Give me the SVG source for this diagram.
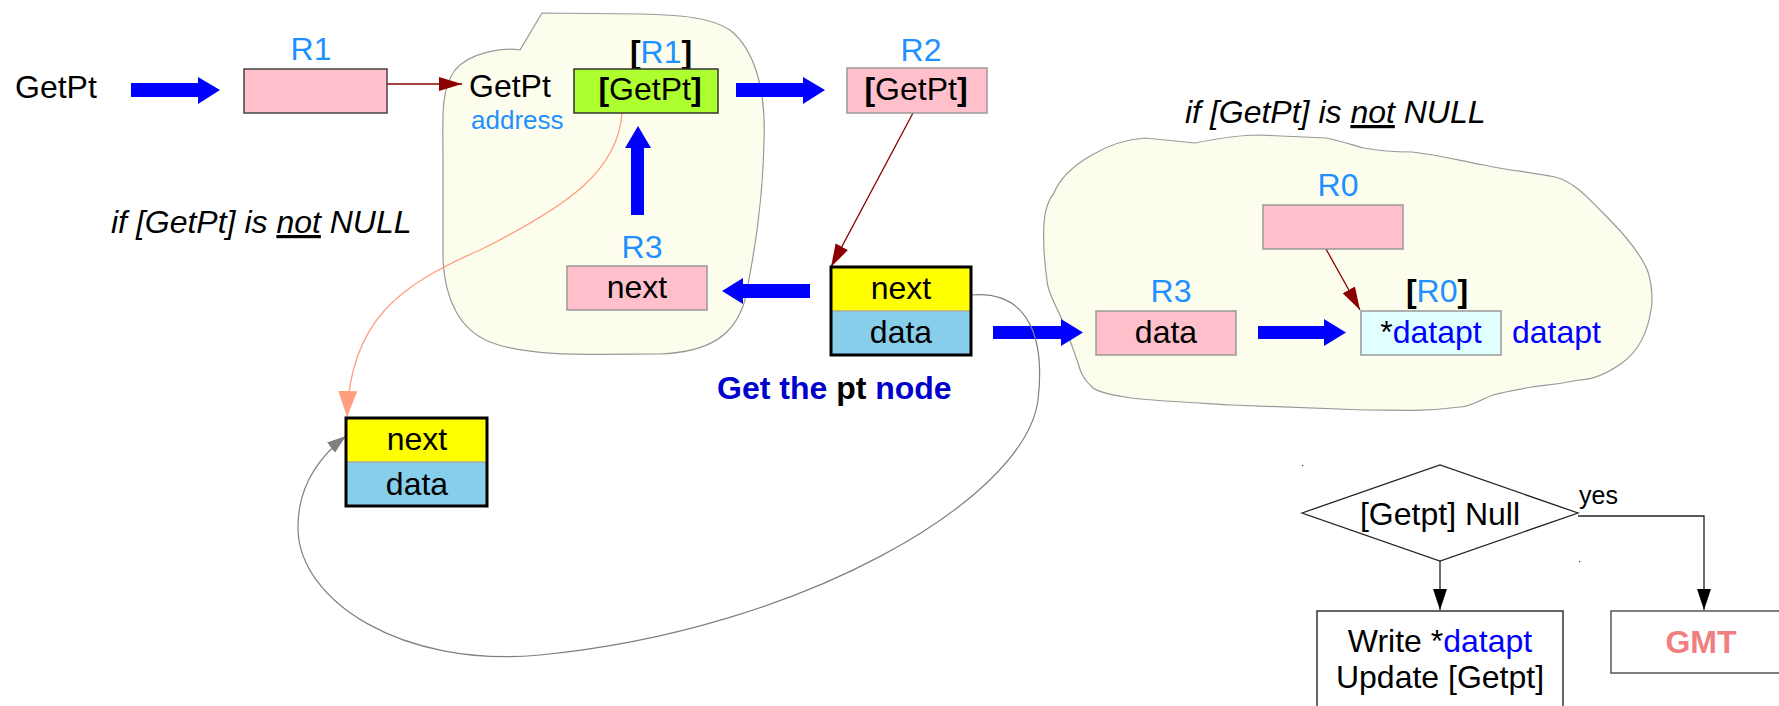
<svg xmlns="http://www.w3.org/2000/svg" width="1779" height="706" viewBox="0 0 1779 706">
<defs>
<style>
text{font-family:"Liberation Sans",Arial,sans-serif;font-size:32px;fill:#000}
.lbl{fill:#1e90ff}
.b{font-weight:bold}
.mid{text-anchor:middle}
.blue{fill:#0000ff}
.pink{fill:#ffc0cb;stroke:#999;stroke-width:1.5}
.cloud{fill:#fdfdee;stroke:#999;stroke-width:1.2}
.big{fill:#0000ff}
.cell{stroke:none}
.frame{fill:none;stroke:#000;stroke-width:3}
.split{stroke:#aaa;stroke-width:1.5}
.thinred{stroke:#8b0000;stroke-width:1.3;fill:none}
.flow{stroke:#222;stroke-width:1.3;fill:none}
.it{font-style:italic}
</style>
<marker id="mRed" markerUnits="userSpaceOnUse" markerWidth="24" markerHeight="16" refX="23" refY="7" orient="auto" viewBox="0 0 24 16"><path d="M0,0 L23,7 L0,14 z" fill="#8b0000"/></marker>
<marker id="mOrange" markerUnits="userSpaceOnUse" markerWidth="27" markerHeight="20" refX="26" refY="9.5" orient="auto" viewBox="0 0 27 20"><path d="M0,0 L26,9.5 L0,19 z" fill="#ff9f7f"/></marker>
<marker id="mGray" markerUnits="userSpaceOnUse" markerWidth="20" markerHeight="14" refX="19" refY="6.5" orient="auto" viewBox="0 0 20 14"><path d="M0,0 L19,6.5 L0,13 z" fill="#808080"/></marker>
<marker id="mBlack" markerUnits="userSpaceOnUse" markerWidth="22" markerHeight="16" refX="21" refY="7" orient="auto" viewBox="0 0 22 16"><path d="M0,0 L21,7 L0,14 z" fill="#000"/></marker>
</defs>
<rect width="1779" height="706" fill="#fff"/>

<g id="cloud-left">
<path class="cloud" d="M542,13 L520,50 C505,47 470,52 455,70 C440,90 443,120 443,160 L443,260 C445,300 460,330 490,342 C530,358 600,354 660,354 C710,352 735,335 745,300 C755,250 763,200 764,140 C766,90 755,50 730,30 C710,17 680,15 640,14 Z"/>
</g>
<g id="cloud-right">
<path class="cloud" d="M1054,193 C1065,165 1110,140 1145,138 L1195,143 C1220,138 1240,135 1259,135 L1326,138 C1345,142 1355,146 1364,148 C1385,152 1400,152 1412,152 C1440,155 1465,162 1484,165 C1505,170 1530,172 1555,177 C1575,182 1590,200 1603,213 C1615,225 1635,245 1646,267 C1652,280 1653,300 1651,310 C1648,330 1640,350 1622,363 C1605,375 1590,380 1579,380 C1555,385 1545,385 1532,387 C1515,390 1500,393 1493,395 C1480,400 1470,407 1460,407 C1420,412 1400,410 1364,410 L1231,405 C1180,402 1140,400 1125,397 C1105,394 1095,390 1092,387 C1082,378 1080,370 1078,363 C1070,340 1065,325 1059,313 C1050,295 1047,285 1047,280 C1044,260 1043,240 1044,223 C1045,210 1048,200 1054,193 Z"/>
</g>

<g id="connectors">
<path class="big" d="M131,83 H198 V77 L220,90 L198,104 V97 H131 Z"/>
<path class="big" d="M736,83 H803 V77 L825,90 L803,104 V97 H736 Z"/>
<path class="big" d="M631,215 V148 H625 L638,126 L651,148 H644 V215 Z"/>
<path class="big" d="M810,284 H743 V278 L722,291 L743,304 V298 H810 Z"/>
<path class="big" d="M993,326 H1061 V319 L1083,332.5 L1061,346 V339 H993 Z"/>
<path class="big" d="M1258,326 H1324 V319 L1346,332.5 L1324,346 V339 H1258 Z"/>
<line class="thinred" x1="387" y1="84" x2="462" y2="84" marker-end="url(#mRed)"/>
<line class="thinred" x1="913" y1="113" x2="831" y2="267" marker-end="url(#mRed)"/>
<line class="thinred" x1="1326" y1="249" x2="1360" y2="310" marker-end="url(#mRed)"/>
<path d="M622,113 C618,170 570,205 480,250 C400,285 350,320 347,417" fill="none" stroke="#ff9f7f" stroke-width="1.3" marker-end="url(#mOrange)"/>
<path d="M971,295 C1030,290 1045,340 1038,400 C1025,500 800,630 540,655 C400,668 300,600 298,530 C297,490 315,460 346,436" fill="none" stroke="#808080" stroke-width="1.2" marker-end="url(#mGray)"/>
<path class="flow" d="M1440,561 V610" marker-end="url(#mBlack)"/>
<path class="flow" d="M1578,516 H1704 V610" marker-end="url(#mBlack)"/>
</g>

<g id="getpt-label"><text x="15" y="98">GetPt</text></g>

<g id="r1">
<text class="lbl mid" x="311" y="60">R1</text>
<rect x="244" y="69" width="143" height="44" fill="#ffc0cb" stroke="#444" stroke-width="1.5"/>
</g>

<g id="getpt-address">
<text x="469" y="97">GetPt</text>
<text class="lbl" x="471" y="129" style="font-size:26px">address</text>
</g>

<g id="r1-content">
<text class="mid" x="661" y="63"><tspan class="b">[</tspan><tspan class="lbl">R1</tspan><tspan class="b">]</tspan></text>
<rect x="574" y="69" width="144" height="44" fill="#adff2f" stroke="#333" stroke-width="1.5"/>
<text class="mid" x="650" y="100"><tspan class="b">[</tspan>GetPt<tspan class="b">]</tspan></text>
</g>

<g id="r2">
<text class="lbl mid" x="921" y="61">R2</text>
<rect class="pink" x="847" y="68" width="140" height="45"/>
<text class="mid" x="916" y="100"><tspan class="b">[</tspan>GetPt<tspan class="b">]</tspan></text>
</g>

<g id="cond-left">
<text class="it" x="111" y="233">if [GetPt] is <tspan text-decoration="underline">not</tspan> NULL</text>
</g>

<g id="r3-next">
<text class="lbl mid" x="642" y="258">R3</text>
<rect class="pink" x="567" y="266" width="140" height="44"/>
<text class="mid" x="637" y="298">next</text>
</g>

<g id="pt-node">
<rect class="cell" x="831" y="267" width="140" height="44" fill="#ffff00"/>
<rect class="cell" x="831" y="311" width="140" height="44" fill="#87ceeb"/>
<line class="split" x1="831" y1="311" x2="971" y2="311"/>
<rect class="frame" x="831" y="267" width="140" height="88"/>
<text class="mid" x="901" y="299">next</text>
<text class="mid" x="901" y="343">data</text>
</g>

<g id="caption">
<text class="b" x="717" y="399" fill="#0000cc"><tspan fill="#0000cc">Get the </tspan><tspan fill="#000">pt</tspan><tspan fill="#0000cc"> node</tspan></text>
</g>

<g id="next-node">
<rect class="cell" x="346" y="418" width="141" height="44" fill="#ffff00"/>
<rect class="cell" x="346" y="462" width="141" height="44" fill="#87ceeb"/>
<line class="split" x1="346" y1="462" x2="487" y2="462"/>
<rect class="frame" x="346" y="418" width="141" height="88"/>
<text class="mid" x="417" y="450">next</text>
<text class="mid" x="417" y="495">data</text>
</g>

<g id="cond-right">
<text class="it" x="1185" y="123">if [GetPt] is <tspan text-decoration="underline">not</tspan> NULL</text>
</g>

<g id="r0">
<text class="lbl mid" x="1338" y="196">R0</text>
<rect class="pink" x="1263" y="205" width="140" height="44"/>
</g>

<g id="r3-data">
<text class="lbl mid" x="1171" y="302">R3</text>
<rect class="pink" x="1096" y="311" width="140" height="44"/>
<text class="mid" x="1166" y="343">data</text>
</g>

<g id="datapt">
<text class="mid" x="1437" y="302"><tspan class="b">[</tspan><tspan class="lbl">R0</tspan><tspan class="b">]</tspan></text>
<rect x="1361" y="311" width="140" height="44" fill="#e0ffff" stroke="#999" stroke-width="1.5"/>
<text class="mid" x="1431" y="343">*<tspan class="blue">datapt</tspan></text>
<text class="blue" x="1512" y="343">datapt</text>
</g>

<g id="decision">
<path d="M1302,513 L1440,465 L1578,513 L1440,561 Z" fill="#fff" stroke="#222" stroke-width="1.3"/>
<text class="mid" x="1440" y="525">[Getpt] Null</text>
<text x="1579" y="504" style="font-size:25px">yes</text>
<rect x="1302" y="465" width="1.2" height="1.2" fill="#333"/>
<rect x="1579" y="561" width="1.2" height="1.2" fill="#333"/>
</g>

<g id="write-box">
<rect x="1317" y="611" width="246" height="110" fill="#fff" stroke="#333" stroke-width="1.5"/>
<text class="mid" x="1440" y="652">Write *<tspan class="blue">datapt</tspan></text>
<text class="mid" x="1440" y="688">Update [Getpt]</text>
</g>

<g id="gmt-box">
<rect x="1611" y="611" width="200" height="62" fill="#fff" stroke="#555" stroke-width="1.5"/>
<text class="mid b" x="1701" y="653" style="fill:#f08080">GMT</text>
</g>
</svg>
